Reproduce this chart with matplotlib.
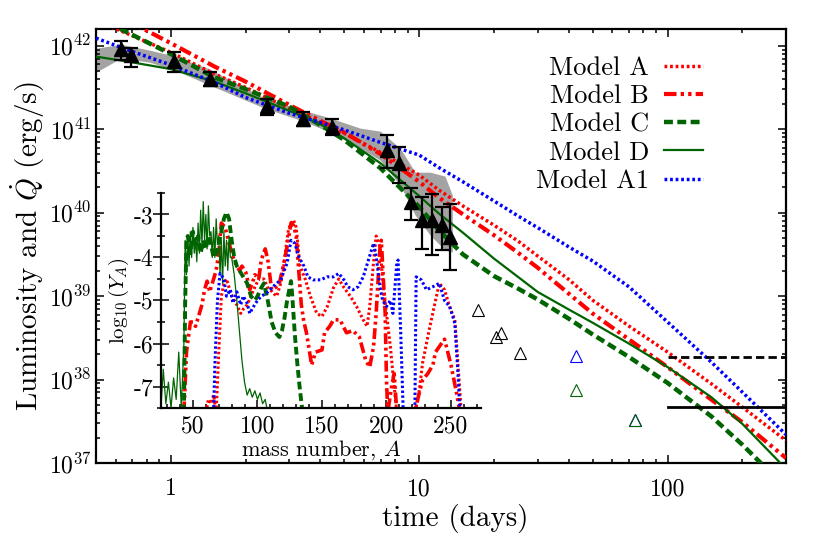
import numpy as np
import matplotlib.pyplot as plt
from matplotlib.ticker import MultipleLocator, LogLocator, NullFormatter

plt.rcParams['font.family'] = 'serif'
plt.rcParams['font.serif'] = ['cmr10']
plt.rcParams['mathtext.fontset'] = 'cm'
plt.rcParams['axes.unicode_minus'] = False

# ---- main panel: bolometric light curve ----
t_obs = [0.633, 0.694, 1.03, 1.44, 2.43, 3.42, 4.44, 7.41, 8.33, 9.29, 10.25, 11.25, 12.35, 13.34]
L_obs = [9.25e41, 7.69e41, 6.58e41, 3.94e41, 1.88e41, 1.34e41, 1.07e41, 5.61e40, 3.88e40,
         1.35e40, 8.13e39, 8.13e39, 7.08e39, 5.13e39]
L_obs_hi = [1.14e42, 9.33e41, 8.29e41, 4.86e41, 2.27e41, 1.61e41, 1.31e41, 8.47e40, 6.04e40,
            1.95e40, 1.52e40, 1.67e40, 1.17e40, 1.26e40]
L_obs_lo = [6.82e41, 5.57e41, 4.86e41, 3.26e41, 1.47e41, 1.09e41, 8.47e40, 3.38e40, 2.28e40,
            8.13e39, 3.62e39, 3.10e39, 3.56e39, 2.05e39]

t_band = [0.5, 0.629, 0.823, 1.038, 1.436, 2.39, 3.41, 4.38, 5.78, 6.97, 8.38, 9.64, 11.07, 12.7, 13.6]
band_hi = [9.33e41, 1.04e42, 8.83e41, 7.48e41, 5.23e41, 2.35e41, 1.69e41, 1.36e41, 1.03e41,
           9.46e40, 5.92e40, 3.05e40, 3.05e40, 2.74e40, 1.62e40]
band_lo = [4.82e41, 7.08e41, 6.34e41, 5.09e41, 3.37e41, 1.78e41, 1.25e41, 9.20e40, 5.92e40,
           4.25e40, 2.13e40, 9.33e39, 5.38e39, 3.56e39, 3.37e39]

t_model = [0.5, 0.7, 1, 1.5, 2, 3, 4, 5, 7, 10, 12, 15, 20, 25, 30, 40, 50, 70, 100, 150, 200, 300]
logL_A = [42.30, 42.12, 41.92, 41.66, 41.50, 41.25, 41.08, 40.95, 40.72, 40.45, 40.27, 40.08,
          39.85, 39.66, 39.48, 39.20, 38.95, 38.64, 38.33, 37.95, 37.67, 37.27]
logL_B = [42.51, 42.27, 42.03, 41.75, 41.57, 41.29, 41.10, 40.96, 40.70, 40.37, 40.18, 39.98,
          39.73, 39.52, 39.34, 39.03, 38.79, 38.48, 38.15, 37.76, 37.49, 37.06]
logL_C = [42.34, 42.13, 41.90, 41.62, 41.48, 41.27, 41.05, 40.87, 40.53, 40.07, 39.79, 39.50,
          39.24, 39.09, 38.96, 38.73, 38.54, 38.27, 37.96, 37.56, 37.22, 36.70]
logL_D = [41.87, 41.80, 41.72, 41.57, 41.43, 41.22, 41.06, 40.89, 40.59, 40.20, 39.99, 39.76,
          39.45, 39.23, 39.05, 38.84, 38.68, 38.43, 38.15, 37.79, 37.47, 36.93]
logL_A1 = [42.09, 41.93, 41.77, 41.56, 41.38, 41.19, 41.08, 40.99, 40.84, 40.69, 40.54, 40.37,
           40.14, 39.96, 39.82, 39.59, 39.42, 39.11, 38.69, 38.21, 37.85, 37.34]

# late-time open triangles
t_late_k = [17.3, 20.4, 21.4, 25.4]
L_late_k = [6.79e38, 3.26e38, 3.63e38, 2.09e38]
t_late_b = [43.0, 73.8]
L_late_b = [1.91e38, 3.27e37]
t_late_g = [43.0, 73.8]
L_late_g = [7.48e37, 3.27e37]

# horizontal limits at late times
t_limit = [100, 300]
L_limit_dashed = 1.85e38
L_limit_solid = 4.72e37

# ---- inset: abundance patterns ----
A_a = [60, 62, 64, 66, 68, 70, 72, 74, 76, 79, 82, 84, 87, 89, 92, 95, 97, 101, 105, 108,
       110, 113, 115, 118, 120, 122, 124, 126, 128, 130, 133, 137, 141, 146, 150, 154, 159, 163,
       167, 172, 177, 182, 185, 187, 190, 192, 195, 197, 200, 203, 205, 208,
       214, 222, 225, 228, 233, 238, 241, 245, 249, 253, 255, 258]
Y_a = [-7.6, -7.3, -7.4, -7.2, -7.6, -6.2, -4.9, -4.6, -4.5, -4.8, -5.0, -5.1, -5.3, -5.2,
       -5.1, -4.9, -4.75, -4.5, -4.5, -4.7, -4.75, -4.85, -4.9, -4.6, -4.3, -3.8, -3.36, -3.2,
       -3.13, -3.3, -4.2, -4.5, -4.9, -5.3, -5.37, -5.15, -4.7, -4.5, -4.7, -4.9, -5.15, -5.45,
       -5.6, -5.15, -4.1, -3.5, -3.75, -4.5, -5.3, -6.07, -6.7, -7.6,
       -8.5, -7.6, -7.2, -6.45, -5.7, -5.0, -4.6, -4.75, -5.15, -5.45, -6.3, -7.6]

A_b = [43, 45, 48, 50, 52, 54, 57, 59, 61, 63, 66, 68, 70, 72, 75, 78, 81, 84, 86, 88,
       91, 94, 96, 98, 101, 103, 106, 108, 111, 114, 117, 120, 123, 126, 128, 130, 132, 134,
       136, 138, 142, 145, 150, 152, 156, 159, 164, 169, 174, 179, 184, 187, 190, 192, 195,
       196, 199, 200, 201, 204, 206, 208, 212, 222, 225, 228, 232, 236, 238, 241, 245, 250,
       254, 257]
Y_b = [-7.6, -6.2, -5.5, -5.5, -5.6, -5.4, -5.1, -4.75, -4.55, -4.8, -4.5, -4.3, -3.9, -3.2,
       -3.3, -3.67, -3.98, -4.2, -4.3, -4.2, -4.35, -4.75, -4.6, -4.4, -4.5, -4.05, -3.8, -4.05,
       -4.75, -4.7, -4.6, -4.2, -3.75, -3.2, -3.25, -3.5, -4.3, -5.1, -5.5, -5.75, -6.5, -6.2,
       -6.15, -5.75, -5.6, -5.45, -5.45, -5.75, -5.7, -5.85, -6.4, -6.55, -6.07, -5.3, -3.75,
       -3.6, -5.3, -6.85, -7.6, -7.0, -6.7, -7.6, -8.5, -7.6, -7.2, -6.85, -6.7, -6.5, -6.2,
       -6.07, -5.9, -6.5, -7.1, -7.6]

A_c = [43, 44, 45, 46, 48, 50, 52, 54, 56, 58, 60, 62, 64, 66, 68, 70, 72, 74, 76, 78,
       80, 82, 84, 86, 88, 90, 92, 95, 98, 100, 103, 105, 108, 111, 114, 117, 119, 121, 123,
       125, 126, 127, 129, 131, 133, 135]
Y_c = [-7.6, -5.0, -3.6, -3.5, -3.9, -3.4, -3.7, -3.5, -3.9, -3.6, -3.8, -3.5, -3.7, -4.0,
       -3.9, -3.7, -3.4, -3.1, -2.95, -3.1, -3.6, -4.0, -4.2, -4.3, -4.4, -4.5, -4.6, -4.9,
       -5.0, -4.9, -4.7, -4.6, -5.0, -5.5, -5.75, -5.85, -5.7, -5.4, -5.0, -4.7, -4.55, -4.9,
       -5.8, -6.5, -7.1, -7.6]

A_d = [25, 27, 29, 31, 33, 35, 37, 39, 41, 43, 44, 45, 46, 47, 48, 49, 50, 51, 52, 53,
       54, 55, 56, 57, 58, 59, 60, 61, 62, 63, 64, 65, 66, 67, 68, 69, 70, 71, 72, 73, 74,
       75, 76, 77, 78, 79, 80, 82, 84, 86, 88, 90, 92, 94, 96, 98, 100, 102, 104, 106, 108]
Y_d = [-7.6, -6.6, -7.4, -6.9, -7.5, -6.8, -7.3, -6.2, -7.5, -6.0, -3.6, -4.4, -3.5, -4.2,
       -3.4, -4.0, -3.3, -3.9, -3.6, -4.1, -3.2, -3.9, -2.9, -3.7, -2.7, -3.6, -3.0, -3.8,
       -2.8, -3.5, -3.4, -4.0, -3.3, -4.0, -3.1, -3.7, -3.5, -4.4, -3.6, -4.6, -3.4, -4.2,
       -3.6, -4.3, -3.5, -4.0, -4.0, -4.4, -5.0, -5.7, -6.4, -6.9, -7.2, -7.05, -7.25, -7.1,
       -7.3, -7.15, -7.4, -7.3, -7.6]

A_e = [66, 67, 69, 71, 74, 76, 79, 81, 84, 87, 89, 92, 94, 97, 100, 103, 107, 112, 118, 123,
       126, 129, 132, 136, 139, 143, 149, 154, 159, 163, 167, 170, 174, 178, 182, 186, 190,
       192, 195, 197, 200, 203, 205, 208, 209, 211, 213, 218, 222, 223, 227, 231, 236, 241,
       245, 249, 253, 255, 257]
Y_e = [-7.6, -6.5, -5.0, -4.37, -4.5, -4.9, -4.75, -5.06, -4.8, -5.1, -4.9, -5.06, -5.3,
       -5.14, -5.0, -4.9, -4.83, -4.68, -4.52, -4.13, -3.6, -3.67, -3.98, -4.2, -4.45, -4.52,
       -4.52, -4.45, -4.45, -4.37, -4.52, -4.68, -4.75, -4.68, -4.45, -4.06, -3.67, -3.98,
       -4.68, -5.0, -5.14, -5.0, -5.3, -4.13, -4.06, -5.7, -7.6, -8.5, -7.6, -4.45, -4.52,
       -4.75, -4.68, -4.6, -5.0, -5.14, -5.53, -6.5, -7.6]

red = '#ff0000'
green = '#006400'
blue = '#0000ff'
sty_A = dict(color=red, lw=2.5, ls=(0, (0.8, 0.8)))
sty_B = dict(color=red, lw=3.0, ls=(0, (3, 1, 0.8, 1, 0.8, 1)))
sty_C = dict(color=green, lw=3.2, ls=(0, (2, 1)))
sty_D = dict(color=green, lw=1.6, ls='-')
sty_A1 = dict(color=blue, lw=2.5, ls=(0, (0.8, 0.8)))

fig = plt.figure(figsize=(8.3, 5.43), dpi=100)
ax = fig.add_axes([0.1157, 0.1473, 0.8313, 0.7993])

ax.fill_between(t_band, band_lo, band_hi, color='#a3a3a3', lw=0, zorder=1)

ax.plot(t_model, 10 ** np.array(logL_A), label='Model A', zorder=3, **sty_A)
ax.plot(t_model, 10 ** np.array(logL_B), label='Model B', zorder=3, **sty_B)
ax.plot(t_model, 10 ** np.array(logL_C), label='Model C', zorder=3, **sty_C)
ax.plot(t_model, 10 ** np.array(logL_D), label='Model D', zorder=3, **sty_D)
ax.plot(t_model, 10 ** np.array(logL_A1), label='Model A1', zorder=3, **sty_A1)

ax.plot(t_late_k, L_late_k, '^', mfc='none', mec='black', ms=9, mew=0.8, zorder=4)
ax.plot(t_late_b, L_late_b, '^', mfc='none', mec=blue, ms=9, mew=0.8, zorder=4)
ax.plot(t_late_g, L_late_g, '^', mfc='none', mec=green, ms=8, mew=0.8, zorder=4)

ax.plot(t_limit, [L_limit_dashed] * 2, color='black', lw=2, ls=(0, (3, 1.5)), zorder=4)
ax.plot(t_limit, [L_limit_solid] * 2, color='black', lw=2, ls='-', zorder=4)

L_obs = np.array(L_obs)
yerr = [L_obs - np.array(L_obs_lo), np.array(L_obs_hi) - L_obs]
ax.errorbar(t_obs, L_obs, yerr=yerr, fmt='^', color='black', ms=10, elinewidth=1.6,
            capsize=5, capthick=1.6, zorder=5)

ax.set_xscale('log')
ax.set_yscale('log')
ax.set_xlim(0.5, 300)
ax.set_ylim(1e37, 10 ** 42.2)
ax.xaxis.set_major_formatter(plt.FuncFormatter(lambda v, p: '%g' % v))
ax.xaxis.set_minor_formatter(NullFormatter())
ax.yaxis.set_major_locator(LogLocator(base=10, numticks=10))
ax.yaxis.set_minor_locator(LogLocator(base=10, subs=np.arange(2, 10), numticks=20))
ax.tick_params(which='both', direction='in', top=True, right=True, labelsize=17, width=1.1)
ax.tick_params(which='major', length=6)
ax.tick_params(which='minor', length=3)
ax.tick_params(axis='x', pad=11)
ax.tick_params(axis='y', pad=3)
for s in ax.spines.values():
    s.set_linewidth(1.6)
ax.set_xlabel('time (days)', fontsize=21)
ax.xaxis.set_label_coords(0.52, -0.095)
ax.set_ylabel(r'Luminosity and $\dot{Q}$ (erg/s)', fontsize=21, labelpad=1)

leg = ax.legend(loc='upper right', bbox_to_anchor=(0.88, 0.937), frameon=False, fontsize=19,
                markerfirst=False, handlelength=1.5, handletextpad=0.55, labelspacing=0.17,
                borderpad=0, borderaxespad=0)
for txt in leg.get_texts():
    txt.set_ha('right')

# inset
ins = fig.add_axes([0.1936, 0.2486, 0.3855, 0.396])
ins.patch.set_alpha(0)
ins.plot(A_a, Y_a, color=red, lw=2.2, ls=(0, (0.8, 0.8)))
ins.plot(A_b, Y_b, color=red, lw=2.6, ls=(0, (3, 1, 0.8, 1, 0.8, 1)))
ins.plot(A_c, Y_c, color=green, lw=2.8, ls=(0, (2, 1)))
ins.plot(A_d, Y_d, color=green, lw=0.9, ls='-')
ins.plot(A_e, Y_e, color=blue, lw=2.2, ls=(0, (0.8, 0.8)))
ins.set_xlim(25, 273)
ins.set_ylim(-7.5, -2.5)
ins.spines['top'].set_visible(False)
ins.spines['right'].set_visible(False)
ins.spines['left'].set_linewidth(1.6)
ins.spines['bottom'].set_linewidth(1.6)
ins.xaxis.set_major_locator(MultipleLocator(50))
ins.xaxis.set_minor_locator(MultipleLocator(10))
ins.yaxis.set_major_locator(MultipleLocator(1))
ins.yaxis.set_minor_locator(MultipleLocator(0.5))
ins.tick_params(axis='x', which='both', direction='in', labelsize=17, pad=5, width=1.1)
ins.tick_params(axis='x', which='major', length=6)
ins.tick_params(axis='x', which='minor', length=3)
ins.tick_params(axis='y', which='both', direction='inout', labelsize=17, pad=0, width=1.1)
ins.tick_params(axis='y', which='major', length=11)
ins.tick_params(axis='y', which='minor', length=6)
ins.set_xlabel('mass number, $A$', fontsize=16, labelpad=1)
ins.set_ylabel(r'$\log_{10}(Y_A)$', fontsize=15, labelpad=2)

fig.savefig('out.png', dpi=100)
